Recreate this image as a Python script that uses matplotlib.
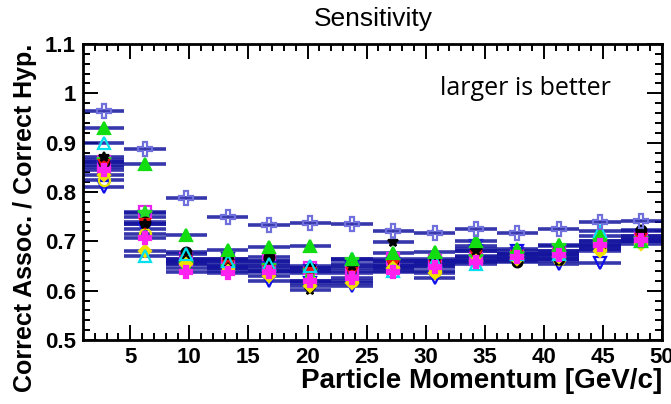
import numpy as np
import matplotlib
matplotlib.use('Agg')
import matplotlib.pyplot as plt
from matplotlib.ticker import MultipleLocator, FormatStrFormatter

# ---------------------------------------------------------------------------
# Data
# ---------------------------------------------------------------------------
bin_edges = np.arange(1.0, 50.01, 3.5)
bin_centers = 0.5 * (bin_edges[:-1] + bin_edges[1:])

cross_open  = [0.965, 0.887, 0.787, 0.749, 0.733, 0.738, 0.735, 0.720, 0.717, 0.726, 0.717, 0.726, 0.740, 0.742]
tri_green   = [0.930, 0.857, 0.712, 0.683, 0.688, 0.690, 0.665, 0.677, 0.678, 0.700, 0.685, 0.692, 0.710, 0.700]
tri_cyan    = [0.900, 0.670, 0.675, 0.660, 0.655, 0.650, 0.665, 0.640, 0.660, 0.655, 0.675, 0.675, 0.720, 0.700]
circ_black  = [0.860, 0.740, 0.678, 0.665, 0.668, 0.645, 0.655, 0.660, 0.655, 0.685, 0.658, 0.665, 0.690, 0.723]
tri_red     = [0.855, 0.735, 0.660, 0.650, 0.640, 0.635, 0.635, 0.650, 0.650, 0.670, 0.670, 0.675, 0.690, 0.705]
plus_mag    = [0.845, 0.707, 0.638, 0.635, 0.638, 0.620, 0.625, 0.637, 0.648, 0.658, 0.668, 0.673, 0.693, 0.703]
diam_yellow = [0.835, 0.680, 0.655, 0.640, 0.630, 0.610, 0.615, 0.645, 0.635, 0.660, 0.665, 0.668, 0.680, 0.695]
tri_blue    = [0.810, 0.725, 0.645, 0.655, 0.620, 0.615, 0.610, 0.650, 0.625, 0.680, 0.680, 0.655, 0.657, 0.700]
circ_yellow = [0.825, 0.715, 0.660, 0.645, 0.640, 0.620, 0.620, 0.645, 0.640, 0.660, 0.665, 0.665, 0.685, 0.700]
star_black  = [0.870, 0.735, 0.665, 0.645, 0.660, 0.602, 0.650, 0.698, 0.660, 0.680, 0.660, 0.660, 0.685, 0.720]
sq_mag      = [0.860, 0.760, 0.665, 0.660, 0.660, 0.645, 0.640, 0.665, 0.660, 0.665, 0.675, 0.680, 0.700, 0.710]
star_green  = [0.865, 0.758, 0.655, 0.648, 0.650, 0.640, 0.662, 0.660, 0.665, 0.668, 0.675, 0.690, 0.700, 0.705]
tri_navy    = [0.850, 0.750, 0.660, 0.665, 0.645, 0.640, 0.645, 0.655, 0.655, 0.690, 0.675, 0.680, 0.695, 0.710]

# (values, marker, face colour, edge colour, size)
series = [
    (tri_blue,    'v', 'none',    '#1010ee', 9),
    (circ_yellow, 'o', 'none',    '#e8e800', 8),
    (sq_mag,      's', 'none',    '#ee22ee', 8),
    (tri_navy,    'v', '#2020cc', '#2020cc', 8),
    (star_green,  '*', '#22dd22', '#22dd22', 10),
    (circ_black,  'o', 'black',   'black',   7),
    (tri_red,     'v', '#ee1111', '#ee1111', 7),
    (star_black,  '*', 'black',   'black',   7),
    (diam_yellow, 'D', '#f0e000', '#f0e000', 6),
    (tri_cyan,    '^', 'none',    '#00e0ee', 9),
    (tri_green,   '^', '#11dd11', '#11dd11', 8),
    (plus_mag,    'P', '#ff22ee', '#ff22ee', 9),
    (cross_open,  'P', 'none',    '#7070dd', 10),
]

# ---------------------------------------------------------------------------
# Plot
# ---------------------------------------------------------------------------
plt.rcParams['font.family'] = ['Liberation Sans', 'DejaVu Sans']

fig = plt.figure(figsize=(6.71, 4.04), dpi=100)
ax = fig.add_axes([0.1237, 0.1584, 0.863, 0.7326])

half = 0.5 * (bin_edges[1] - bin_edges[0])
for vals, mk, fc, ec, ms in series:
    ax.errorbar(bin_centers, vals, xerr=half, fmt='none',
                ecolor='#14149e', elinewidth=2.6, alpha=0.85, zorder=2)
for vals, mk, fc, ec, ms in series:
    ax.plot(bin_centers, vals, linestyle='none', marker=mk, ms=ms,
            markerfacecolor=fc, markeredgecolor=ec, markeredgewidth=1.6,
            zorder=3)

ax.set_xlim(1, 50)
ax.set_ylim(0.5, 1.1)
ax.xaxis.set_major_locator(MultipleLocator(5))
ax.xaxis.set_minor_locator(MultipleLocator(1))
ax.yaxis.set_major_locator(MultipleLocator(0.1))
ax.yaxis.set_minor_locator(MultipleLocator(0.02))
ax.yaxis.set_major_formatter(FormatStrFormatter('%g'))

ax.tick_params(which='both', direction='in', top=True, right=True,
               labelsize=16, width=1.4, pad=5)
ax.tick_params(which='major', length=11)
ax.tick_params(which='minor', length=5)
for lab in ax.get_xticklabels() + ax.get_yticklabels():
    lab.set_fontweight('bold')
for sp in ax.spines.values():
    sp.set_linewidth(2)

ax.set_xlabel('Particle Momentum [GeV/c]', fontsize=20, fontweight='bold',
              loc='right', labelpad=0)
ax.set_ylabel('Correct Assoc. / Correct Hyp.', fontsize=18, fontweight='bold',
              loc='top', labelpad=6)
fig.text(0.556, 0.953, 'Sensitivity', ha='center', va='center', fontsize=19)
ax.text(0.617, 0.851, 'larger is better', transform=ax.transAxes,
        fontsize=18, family=['Open Sans', 'DejaVu Sans'], ha='left', va='center')

fig.savefig('out.png', dpi=100)
